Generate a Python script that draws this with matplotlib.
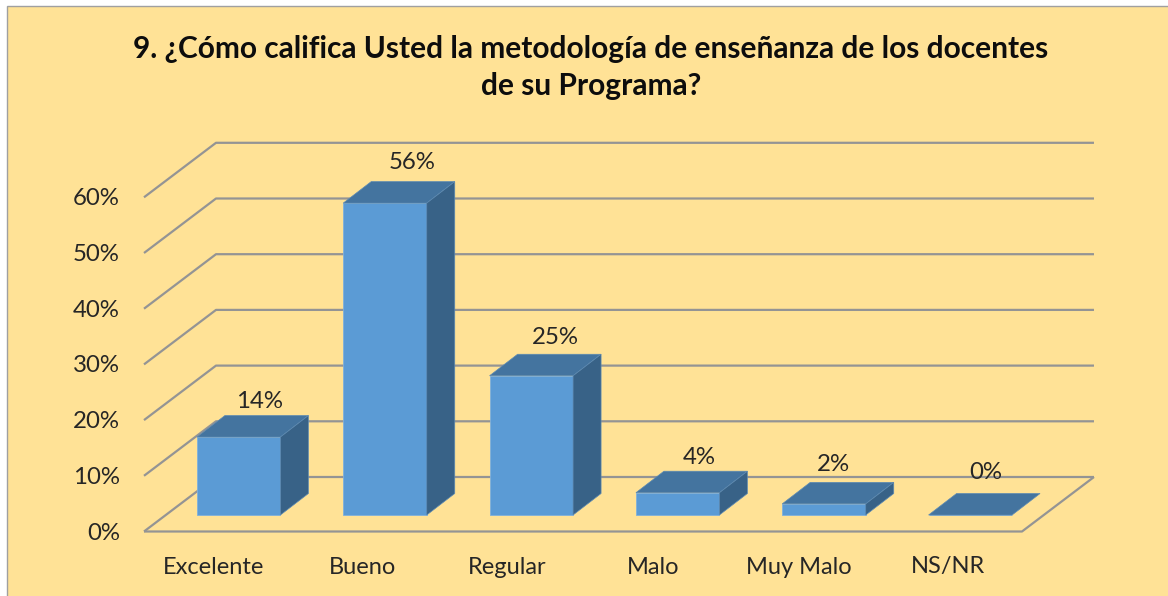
import matplotlib
matplotlib.use("Agg")
import matplotlib.pyplot as plt
from matplotlib.patches import Polygon, Rectangle

categories = ["Excelente", "Bueno", "Regular", "Malo", "Muy Malo", "NS/NR"]
values = [14, 56, 25, 4, 2, 0]
value_labels = ["14%", "56%", "25%", "4%", "2%", "0%"]
y_ticks = [0, 10, 20, 30, 40, 50, 60]
y_tick_labels = ["0%", "10%", "20%", "30%", "40%", "50%", "60%"]
title = "9. ¿Cómo califica Usted la metodología de enseñanza de los docentes\nde su Programa?"

W, H = 1168, 596
plt.rcParams["font.family"] = ["Lato", "DejaVu Sans"]
fig = plt.figure(figsize=(W / 100, H / 100), dpi=100, facecolor="white")

BG = "#FFE296"
fig.add_artist(Rectangle((6.5 / W, -0.01), (W - 6.5 + 5) / W, 1.01 - 5.5 / H, transform=fig.transFigure,
                         facecolor=BG, edgecolor="#A0A0A0", linewidth=1.0, zorder=-5))

# axes = plane of the bars' front faces
CAT_PX, PCT_PX = 146.33, 5.57
X0, Y0 = 165.5, 515.0
ax = fig.add_axes([X0 / W, 1 - Y0 / H, CAT_PX * 6 / W, PCT_PX * 60 / H])
ax.set_xlim(0, 6)
ax.set_ylim(0, 60)
ax.axis("off")
ax.patch.set_alpha(0)

px = lambda p: p / CAT_PX
py = lambda p: p / PCT_PX

# depth offsets, in data units
front_dx, front_dy = px(-21.5), py(-16.5)
back_dx, back_dy = px(50.5), py(38.0)
bar_dx, bar_dy = px(28), py(21.5)
bar_width = px(83.5)
GRID = "#949494"
grid_kw = dict(color=GRID, lw=1.6, clip_on=False, zorder=1, solid_capstyle="butt")

x_left_f, x_right_f = front_dx, 6 + front_dx
x_left_b, x_right_b = back_dx, 6 + back_dx

for t, lab in zip(y_ticks, y_tick_labels):
    yf, yb = t + front_dy, t + back_dy
    ax.plot([x_left_f, x_left_b, x_right_b], [yf, yb, yb], **grid_kw)
    ax.text(x_left_f - px(24), yf - py(1.5), lab, ha="right", va="center",
            fontsize=17.3, color="#262626", clip_on=False)

# floor front and right edges
ax.plot([x_left_f, x_right_f, x_right_b], [front_dy, front_dy, back_dy], **grid_kw)

# hand placement of the value labels, in pixels (dx, dy up)
label_nudge = [(0, 0), (6, 5), (3, 3), (1, 0), (-12, 4), (-6, 7)]
cat_nudge = [0, 3, 1, 0, 0, 3]

for i, (cat, v, lab) in enumerate(zip(categories, values, value_labels)):
    c = i + 0.5
    l, r = c - bar_width / 2, c + bar_width / 2
    ax.bar(c, v, width=bar_width, color="#5B9BD5", edgecolor="#7FB0DC", linewidth=0.6,
           zorder=3, clip_on=False)
    ax.add_patch(Polygon([(l, v), (r, v), (r + bar_dx, v + bar_dy), (l + bar_dx, v + bar_dy)],
                         closed=True, facecolor="#44749F", edgecolor="#5C8AB3", linewidth=0.5,
                         zorder=3, clip_on=False))
    if v > 0:
        ax.add_patch(Polygon([(r, 0), (r + bar_dx, bar_dy), (r + bar_dx, v + bar_dy), (r, v)],
                             closed=True, facecolor="#386287", edgecolor="#5C8AB3", linewidth=0.5,
                             zorder=3, clip_on=False))
    ndx, ndy = label_nudge[i]
    ax.text(c + px(21 + ndx), v + bar_dy + py(14 + ndy), lab, ha="center", va="center",
            fontsize=17.3, color="#262626", clip_on=False, zorder=5)
    ax.text(c + px(-25 + cat_nudge[i]), py(-52), cat, ha="center", va="center",
            fontsize=17, color="#262626", clip_on=False)

fig.text(591 / W, 1 - 67.5 / H, title, ha="center", va="center", fontsize=21.5, fontweight="bold",
         color="#0D0D0D", linespacing=1.42)

fig.savefig("out.png", dpi=100, facecolor="white")
